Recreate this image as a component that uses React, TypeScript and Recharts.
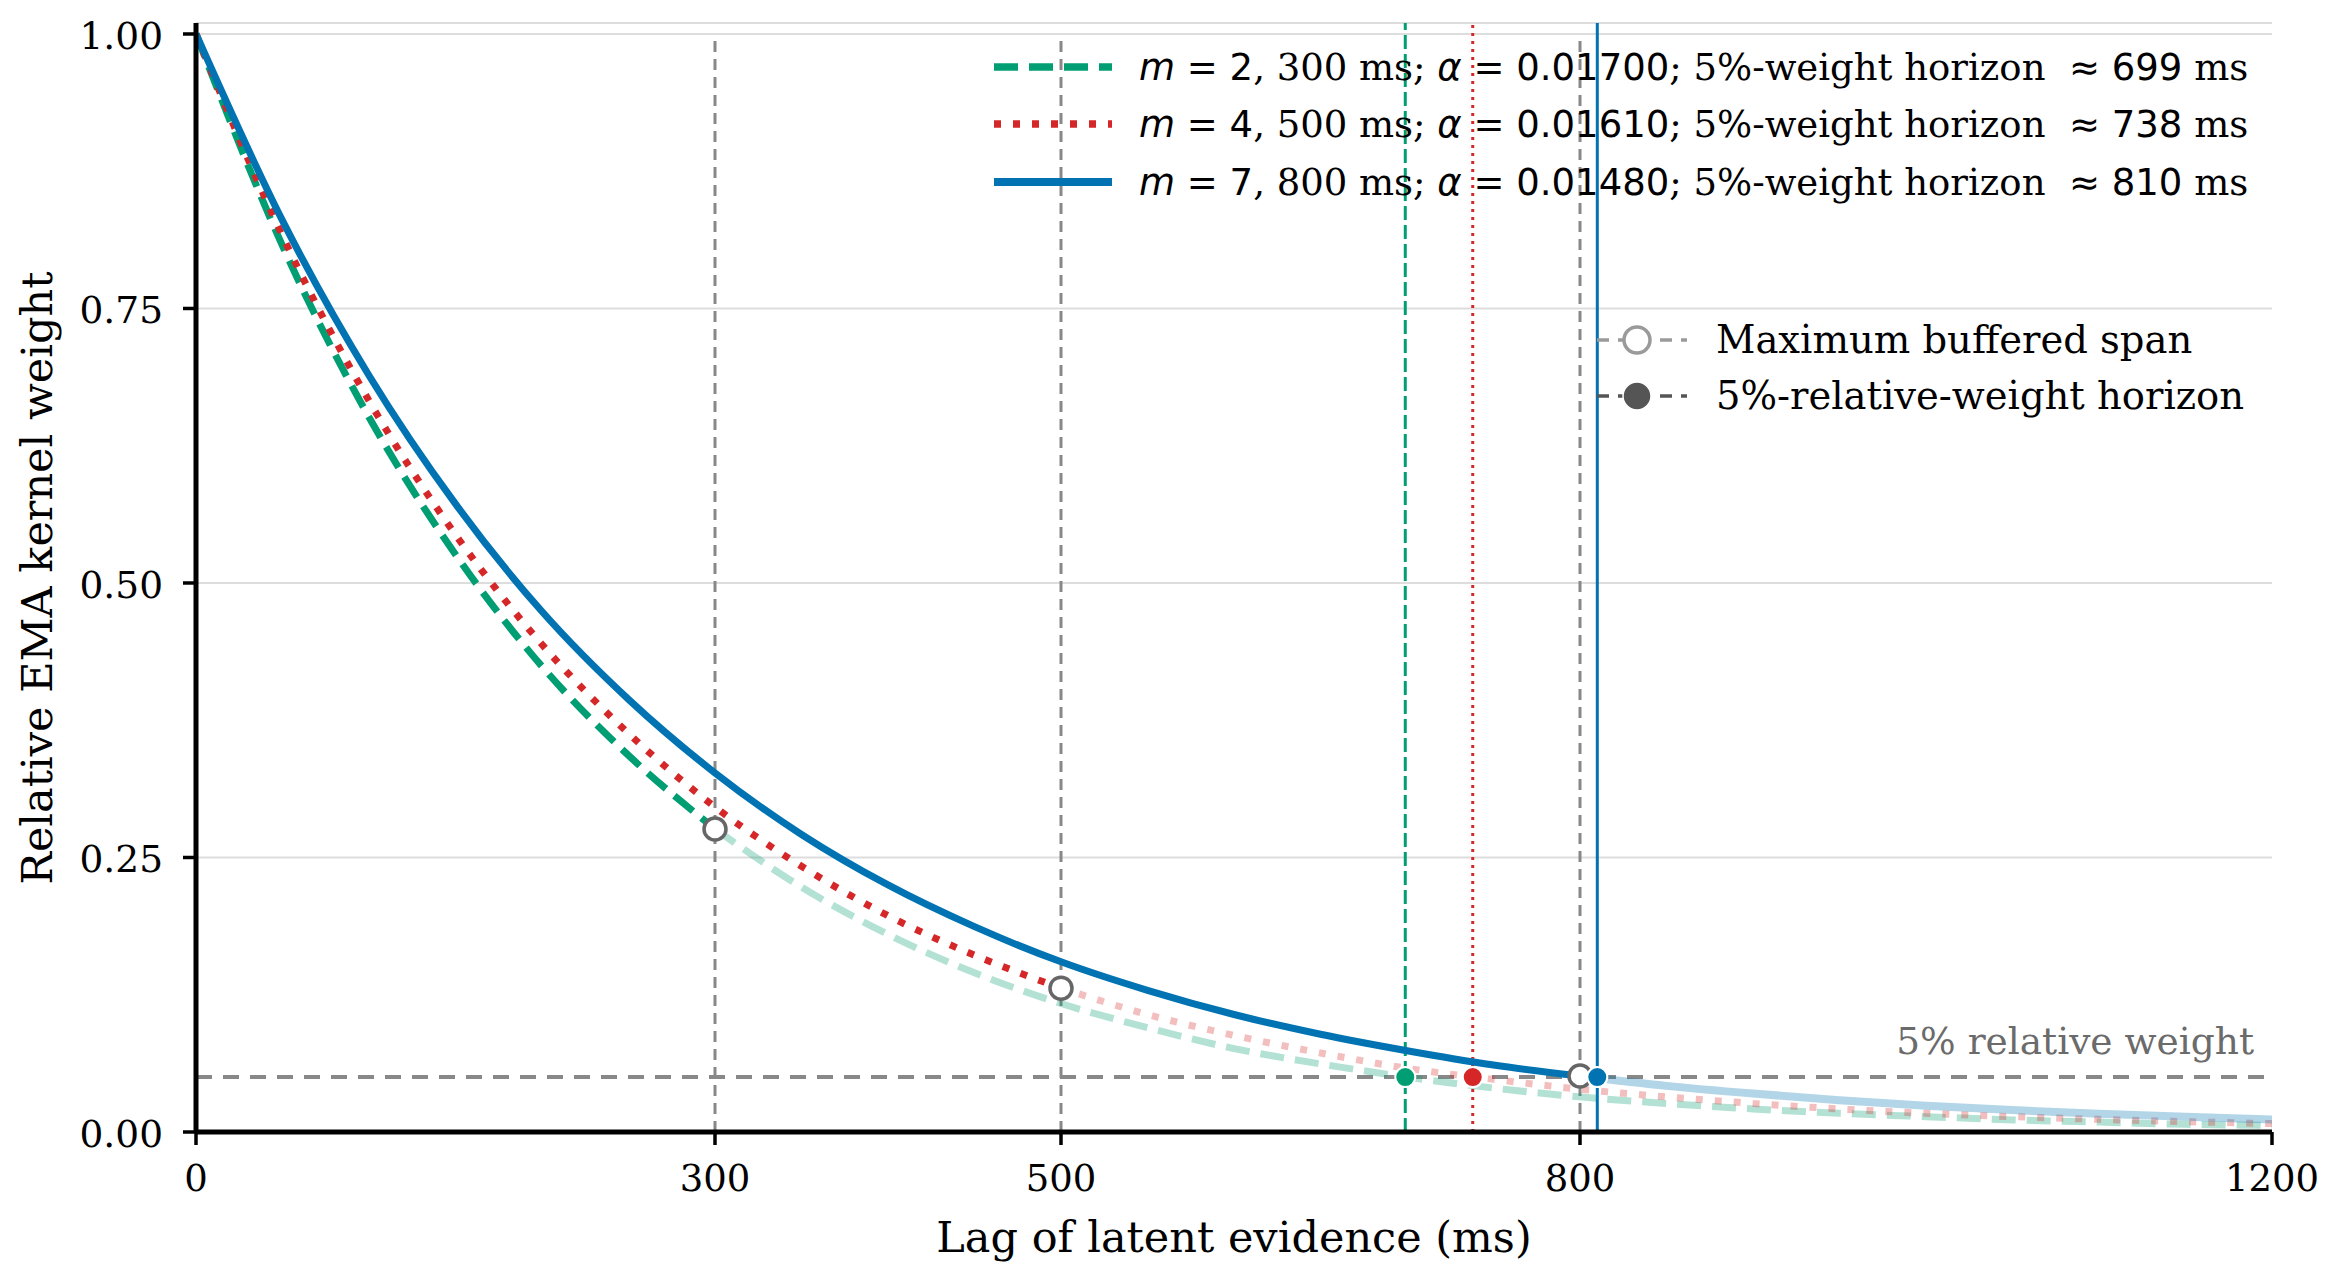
import React from 'react';
import {
  ComposedChart,
  Line,
  XAxis,
  YAxis,
  CartesianGrid,
  ReferenceLine,
  ReferenceDot,
} from 'recharts';

// ---------- data ----------
const xTicks = [0, 300, 500, 800, 1200];
const yTicks = [0, 0.25, 0.5, 0.75, 1.0];

const mValues = [2, 4, 7];
const bufferSpans = [300, 500, 800];
const alphaLabels = ['0.01700', '0.01610', '0.01480'];
const horizons = [699, 738, 810];
const thresholdWeight = 0.05;

// m = 2 (green): inside buffer and beyond
const greenInside = [
  { x: 0, y: 1.0 }, { x: 50, y: 0.807 }, { x: 100, y: 0.651 }, { x: 150, y: 0.526 },
  { x: 200, y: 0.424 }, { x: 250, y: 0.343 }, { x: 300, y: 0.276 },
];
const greenBeyond = [
  { x: 300, y: 0.276 }, { x: 350, y: 0.223 }, { x: 400, y: 0.18 }, { x: 450, y: 0.145 },
  { x: 500, y: 0.117 }, { x: 550, y: 0.095 }, { x: 600, y: 0.076 }, { x: 650, y: 0.062 },
  { x: 700, y: 0.05 }, { x: 750, y: 0.04 }, { x: 800, y: 0.032 }, { x: 850, y: 0.026 },
  { x: 900, y: 0.021 }, { x: 950, y: 0.017 }, { x: 1000, y: 0.014 }, { x: 1050, y: 0.011 },
  { x: 1100, y: 0.009 }, { x: 1150, y: 0.007 }, { x: 1200, y: 0.006 },
];

// m = 4 (red)
const redInside = [
  { x: 0, y: 1.0 }, { x: 50, y: 0.816 }, { x: 100, y: 0.666 }, { x: 150, y: 0.544 },
  { x: 200, y: 0.444 }, { x: 250, y: 0.363 }, { x: 300, y: 0.296 }, { x: 350, y: 0.242 },
  { x: 400, y: 0.197 }, { x: 450, y: 0.161 }, { x: 500, y: 0.131 },
];
const redBeyond = [
  { x: 500, y: 0.131 }, { x: 550, y: 0.107 }, { x: 600, y: 0.088 }, { x: 650, y: 0.072 },
  { x: 700, y: 0.058 }, { x: 750, y: 0.048 }, { x: 800, y: 0.039 }, { x: 850, y: 0.032 },
  { x: 900, y: 0.026 }, { x: 950, y: 0.021 }, { x: 1000, y: 0.017 }, { x: 1050, y: 0.014 },
  { x: 1100, y: 0.0115 }, { x: 1150, y: 0.0094 }, { x: 1200, y: 0.0077 },
];

// m = 7 (blue)
const blueInside = [
  { x: 0, y: 1.0 }, { x: 50, y: 0.83 }, { x: 100, y: 0.689 }, { x: 150, y: 0.572 },
  { x: 200, y: 0.474 }, { x: 250, y: 0.394 }, { x: 300, y: 0.327 }, { x: 350, y: 0.271 },
  { x: 400, y: 0.225 }, { x: 450, y: 0.187 }, { x: 500, y: 0.155 }, { x: 550, y: 0.129 },
  { x: 600, y: 0.107 }, { x: 650, y: 0.089 }, { x: 700, y: 0.074 }, { x: 750, y: 0.061 },
  { x: 800, y: 0.051 },
];
const blueBeyond = [
  { x: 800, y: 0.051 }, { x: 850, y: 0.042 }, { x: 900, y: 0.035 }, { x: 950, y: 0.029 },
  { x: 1000, y: 0.024 }, { x: 1050, y: 0.02 }, { x: 1100, y: 0.0166 }, { x: 1150, y: 0.0138 },
  { x: 1200, y: 0.0114 },
];

const spanMarkerY = [0.276, 0.131, 0.051];

// ---------- styles ----------
const W = 2341;
const H = 1281;
const SERIF = '"DejaVu Serif", serif';
const SANS = '"DejaVu Sans", sans-serif';
const COLORS = ['#029E73', '#D62728', '#0173B2'];
const DASHES = ['24 11', '7 12', undefined];
const HORIZON_DASHES = ['14 5', '3 5', undefined];
const GRAY = '#888888';
const LW = 7;

const XTick = (props: any) => {
  const { x, y, payload } = props;
  return (
    <text x={x} y={y} dy={28} textAnchor="middle" fontFamily={SERIF} fontSize={37} fill="#000">
      {payload.value}
    </text>
  );
};

const YTick = (props: any) => {
  const { x, y, payload } = props;
  return (
    <text x={x} y={y} dy={15} textAnchor="end" fontFamily={SERIF} fontSize={37.5} fill="#000">
      {Number(payload.value).toFixed(2)}
    </text>
  );
};

const ThresholdLabel = (props: any) => {
  const vb = props.viewBox || {};
  return (
    <text
      x={vb.x + vb.width - 18}
      y={vb.y - 23}
      textAnchor="end"
      fontFamily={SERIF}
      fontSize={37.5}
      fill="#6b6b6b"
    >
      5% relative weight
    </text>
  );
};

const Overlay = () => {
  const rowY = [67, 124, 182];
  const hx1 = 994;
  const hx2 = 1112;
  const tx = 1139;
  const row2Y = [340, 396];
  return (
    <svg
      width={W}
      height={H}
      style={{ position: 'absolute', left: 0, top: 0, pointerEvents: 'none' }}
    >
      {/* axis titles */}
      <text x={1234} y={1252} textAnchor="middle" fontFamily={SERIF} fontSize={43} fill="#000">
        Lag of latent evidence (ms)
      </text>
      <text
        x={52}
        y={578}
        transform="rotate(-90 52 578)"
        textAnchor="middle"
        fontFamily={SERIF}
        fontSize={43}
        fill="#000"
      >
        Relative EMA kernel weight
      </text>

      {/* legend 1 */}
      {mValues.map((m, i) => (
        <g key={'l1' + i}>
          <line
            x1={hx1}
            x2={hx2}
            y1={rowY[i]}
            y2={rowY[i]}
            stroke={COLORS[i]}
            strokeWidth={i === 2 ? 8 : 7.5}
            strokeDasharray={DASHES[i]}
          />
          <text x={tx} y={rowY[i] + 13} fontSize={37} fill="#000" style={{ whiteSpace: 'pre' }}>
            <tspan fontFamily={SANS} fontStyle="italic">m</tspan>
            <tspan fontFamily={SANS}>{` = ${m}`}</tspan>
            <tspan fontFamily={SERIF}>{`, ${bufferSpans[i]} ms; `}</tspan>
            <tspan fontFamily={SANS} fontStyle="italic">α</tspan>
            <tspan fontFamily={SANS}>{` = ${alphaLabels[i]}`}</tspan>
            <tspan fontFamily={SERIF}>{'; 5%-weight horizon  '}</tspan>
            <tspan fontFamily={SANS}>{`≈ ${horizons[i]}`}</tspan>
            <tspan fontFamily={SERIF}>{' ms'}</tspan>
          </text>
        </g>
      ))}

      {/* legend 2 */}
      <line x1={1597} x2={1687} y1={row2Y[0]} y2={row2Y[0]} stroke="#9a9a9a" strokeWidth={3.5} strokeDasharray="12 9" />
      <circle cx={1637} cy={row2Y[0]} r={13} fill="#fff" stroke="#9a9a9a" strokeWidth={3.5} />
      <text x={1716} y={row2Y[0] + 13} fontFamily={SERIF} fontSize={38.5} fill="#000">
        Maximum buffered span
      </text>
      <line x1={1597} x2={1687} y1={row2Y[1]} y2={row2Y[1]} stroke="#555" strokeWidth={3.5} strokeDasharray="12 9" />
      <circle cx={1637} cy={row2Y[1]} r={14} fill="#555" stroke="#fff" strokeWidth={1.5} />
      <text x={1716} y={row2Y[1] + 13} fontFamily={SERIF} fontSize={38.5} fill="#000">
        5%-relative-weight horizon
      </text>
    </svg>
  );
};

export default function App() {
  const inside = [greenInside, redInside, blueInside];
  const beyond = [greenBeyond, redBeyond, blueBeyond];
  return (
    <div style={{ position: 'relative', width: W, height: H, background: '#fff' }}>
      <style>{'body{margin:0;background:#fff}'}</style>
      <ComposedChart
        width={W}
        height={H}
        margin={{ top: 23, right: 69, bottom: 0, left: 0 }}
      >
        <CartesianGrid vertical={false} stroke="#dddddd" strokeWidth={2} />
        <XAxis
          type="number"
          dataKey="x"
          domain={[0, 1200]}
          ticks={xTicks}
          allowDataOverflow
          height={149}
          tickSize={13}
          tickMargin={18}
          tick={<XTick />}
          axisLine={{ stroke: '#000', strokeWidth: 5 }}
          tickLine={{ stroke: '#000', strokeWidth: 3.5 }}
        />
        <YAxis
          type="number"
          domain={[0, 1.01]}
          ticks={yTicks}
          allowDataOverflow
          width={196}
          tickSize={13}
          tickMargin={20}
          tick={<YTick />}
          axisLine={{ stroke: '#000', strokeWidth: 5 }}
          tickLine={{ stroke: '#000', strokeWidth: 3.5 }}
        />

        {bufferSpans.map((s) => (
          <ReferenceLine
            key={'span' + s}
            segment={[{ x: s, y: 0 }, { x: s, y: 1 }]}
            stroke={GRAY}
            strokeWidth={3}
            strokeDasharray="11 7"
          />
        ))}
        <ReferenceLine
          y={thresholdWeight}
          stroke={GRAY}
          strokeWidth={4}
          strokeDasharray="16 11"
          label={<ThresholdLabel />}
        />
        {horizons.map((h, i) => (
          <ReferenceLine
            key={'hz' + h}
            x={h}
            stroke={COLORS[i]}
            strokeWidth={3}
            strokeDasharray={HORIZON_DASHES[i]}
          />
        ))}

        {beyond.map((d, i) => (
          <Line
            key={'beyond' + i}
            data={d}
            dataKey="y"
            type="monotone"
            stroke={COLORS[i]}
            strokeOpacity={0.3}
            strokeWidth={i === 2 ? 8 : LW}
            strokeDasharray={DASHES[i]}
            dot={false}
            activeDot={false}
            isAnimationActive={false}
            legendType="none"
          />
        ))}
        {inside.map((d, i) => (
          <Line
            key={'inside' + i}
            data={d}
            dataKey="y"
            type="monotone"
            stroke={COLORS[i]}
            strokeWidth={LW}
            strokeDasharray={DASHES[i]}
            dot={false}
            activeDot={false}
            isAnimationActive={false}
            legendType="none"
          />
        ))}

        {bufferSpans.map((s, i) => (
          <ReferenceDot
            key={'sm' + s}
            x={s}
            y={spanMarkerY[i]}
            r={11}
            fill="#ffffff"
            stroke="#666666"
            strokeWidth={3.5}
          />
        ))}
        {horizons.map((h, i) => (
          <ReferenceDot
            key={'hm' + h}
            x={h}
            y={thresholdWeight}
            r={10}
            fill={COLORS[i]}
            stroke="#ffffff"
            strokeWidth={2}
          />
        ))}
      </ComposedChart>
      <Overlay />
    </div>
  );
}
